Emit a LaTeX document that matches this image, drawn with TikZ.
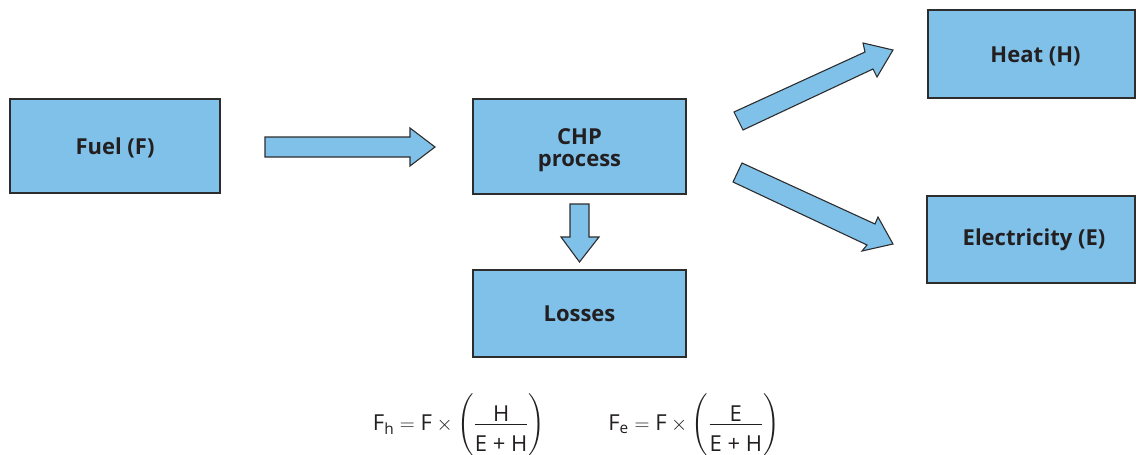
\documentclass[tikz,border=0pt]{standalone}
\usepackage{fontspec}
\usepackage{amsmath}
\setmainfont{Open Sans}
\definecolor{boxblue}{RGB}{128,193,233}
\definecolor{edge}{RGB}{45,45,45}
\definecolor{txt}{RGB}{35,31,32}
\newcommand{\numlow}[1]{\raisebox{-8pt}[8pt][0pt]{#1}}
\newcommand{\fracfix}[2]{\Biggl(\dfrac{\numlow{\text{#1}}}{\rule{0pt}{24pt}\text{#2}}\Biggr)}
\newcommand{\lowr}[2]{\raisebox{-#1}[\height][\depth]{#2}}
\begin{document}
\begin{tikzpicture}[x=1pt,y=-1pt,
  blk/.style={draw=edge,line width=1.1pt,fill=boxblue,rectangle,inner sep=0pt,
    font=\fontsize{22}{22}\selectfont\bfseries,text=txt,align=center},
  barrow/.style={draw=edge,line width=1.1pt,fill=boxblue,line join=miter},
  formula/.style={font=\fontsize{22}{26}\selectfont,text=txt,inner sep=0pt,anchor=base}]
\useasboundingbox (0,0) rectangle (1136,455);
% boxes
\node[blk,minimum width=210pt,minimum height=94pt] (fuel) at (115,146) {\lowr{2pt}{Fuel (F)}};
\node[blk,minimum width=213pt,minimum height=95pt] (chp) at (579.5,146.5) {\lowr{4pt}{CHP}\\\lowr{4pt}{process}};
\node[blk,minimum width=213pt,minimum height=87pt] (loss) at (579.5,313.5) {Losses};
\node[blk,minimum width=207pt,minimum height=88pt] (heat) at (1031.5,54) {\hspace*{8pt}\lowr{2pt}{Heat (H)}};
\node[blk,minimum width=208pt,minimum height=87pt] (elec) at (1031,239.5) {\hspace*{6pt}Electricity (E)};
% block arrows
\draw[barrow] (265,137) -- (410,137) -- (410,128) -- (435,147) -- (410,166) -- (410,157) -- (265,157) -- cycle;
\draw[barrow] (570,204) -- (589,204) -- (589,237) -- (599,237) -- (579.5,262) -- (561,237) -- (570,237) -- cycle;
\draw[barrow] (734,112) -- (865,52) -- (863,43) -- (893,50) -- (877,77) -- (873,69) -- (743,130) -- cycle;
\draw[barrow] (742,163) -- (875,224) -- (878,217) -- (893,244) -- (862,251) -- (867,245) -- (733,182) -- cycle;
% formulas
\node[formula] (fh) at (459,430) {$\text{F}_{\text{h}} = \text{F} \times \fracfix{H}{E + H}$};
\node[formula] (fe) at (694,430) {$\text{F}_{\text{e}} = \text{F} \times \fracfix{E}{E + H}$};
\end{tikzpicture}
\end{document}
